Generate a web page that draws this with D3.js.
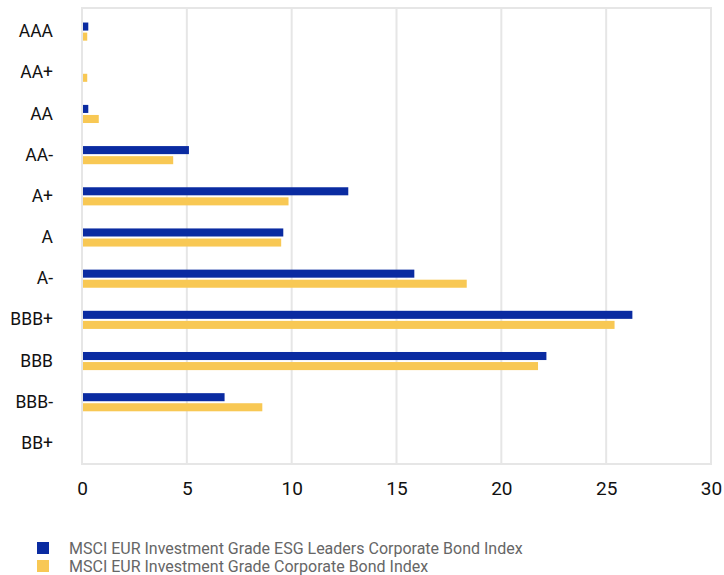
<!DOCTYPE html>
<html>
<head>
<meta charset="utf-8">
<script src="https://cdn.jsdelivr.net/npm/d3@7"></script>
<style>
  html, body { margin: 0; padding: 0; background: #fff; }
  svg { display: block; }
</style>
</head>
<body>
<svg id="chart" width="724" height="575"></svg>
<script>
const categories = ["AAA", "AA+", "AA", "AA-", "A+", "A", "A-", "BBB+", "BBB", "BBB-", "BB+"];
const seriesNames = [
  "MSCI EUR Investment Grade ESG Leaders Corporate Bond Index",
  "MSCI EUR Investment Grade Corporate Bond Index"
];
const esgLeaders = [0.3, 0, 0.3, 5.1, 12.7, 9.6, 15.85, 26.25, 22.15, 6.8, 0];
const broadIndex = [0.25, 0.25, 0.8, 4.35, 9.85, 9.5, 18.35, 25.4, 21.75, 8.6, 0];
const xTicks = [0, 5, 10, 15, 20, 25, 30];
const colors = ["#0a2ba1", "#f8c854"];

const svg = d3.select("#chart");
const margin = { left: 82, right: 13, top: 8, bottom: 111 };
const W = 724, H = 575;
const x = d3.scaleLinear().domain([0, 30]).range([margin.left, W - margin.right]);
const y = d3.scaleBand().domain(categories).range([11, H - margin.bottom]).paddingInner(0.56).paddingOuter(0.28);
const sub = d3.scaleBand().domain([0, 1]).range([0, y.bandwidth()]).paddingInner(0.2);

// grid
const grid = svg.append("g");
grid.selectAll("line.v").data(xTicks).join("line")
  .attr("x1", d => x(d)).attr("x2", d => x(d))
  .attr("y1", margin.top).attr("y2", H - margin.bottom)
  .attr("stroke", "#e6e6e6").attr("stroke-width", 2);
grid.append("line").attr("x1", x(0) - 1).attr("x2", x(30) + 1)
  .attr("y1", margin.top).attr("y2", margin.top)
  .attr("stroke", "#e6e6e6").attr("stroke-width", 2);
grid.append("line").attr("x1", x(0) - 1).attr("x2", x(30) + 1)
  .attr("y1", H - margin.bottom).attr("y2", H - margin.bottom)
  .attr("stroke", "#e6e6e6").attr("stroke-width", 2);

// bars
const data = categories.map((c, i) => ({ cat: c, vals: [esgLeaders[i], broadIndex[i]] }));
const groups = svg.append("g").selectAll("g").data(data).join("g")
  .attr("transform", d => `translate(0,${y(d.cat)})`);
groups.selectAll("rect").data(d => d.vals.map((v, k) => ({ v, k }))).join("rect")
  .attr("x", x(0) + 1)
  .attr("y", d => sub(d.k))
  .attr("width", d => Math.max(0, x(d.v) - x(0) - 1))
  .attr("height", sub.bandwidth())
  .attr("fill", d => colors[d.k]);

// y axis labels
const yAxis = d3.axisLeft(y).tickSize(0).tickPadding(29);
const yg = svg.append("g").attr("transform", `translate(${margin.left},0)`).call(yAxis);
yg.select(".domain").remove();
yg.selectAll("text").attr("font-family", "Roboto, sans-serif").attr("font-size", 17.5).attr("fill", "#111");

// x axis labels
const xAxis = d3.axisBottom(x).tickValues(xTicks).tickSize(0).tickPadding(18).tickFormat(d3.format("d"));
const xg = svg.append("g").attr("transform", `translate(0,${H - margin.bottom})`).call(xAxis);
xg.select(".domain").remove();
xg.selectAll("text").attr("font-family", "Roboto, sans-serif").attr("font-size", 19).attr("fill", "#111");

// legend
const legend = svg.append("g").attr("transform", "translate(37,542)");
const li = legend.selectAll("g").data(seriesNames).join("g")
  .attr("transform", (d, i) => `translate(0,${i * 18})`);
li.append("rect").attr("width", 12).attr("height", 12).attr("fill", (d, i) => colors[i]);
li.append("text").attr("x", 32).attr("y", 6).attr("dy", "0.35em")
  .attr("font-family", "Roboto, sans-serif").attr("font-size", 16).attr("fill", "#666")
  .text(d => d);
</script>
</body>
</html>
